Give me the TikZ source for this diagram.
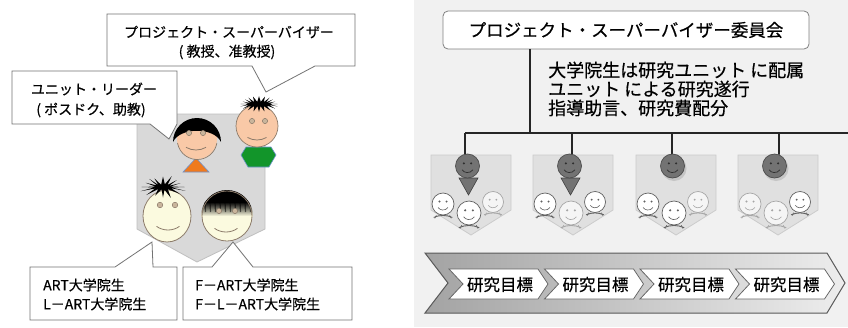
\documentclass[tikz,border=0pt]{standalone}
\usepackage{fontspec}
\newfontfamily\jpfont[FakeBold=0.5]{Noto Sans CJK JP}
\usetikzlibrary{calc}
\definecolor{panelgrey}{HTML}{F1F1F1}
\definecolor{peach}{HTML}{F9C9A7}
\definecolor{cream}{HTML}{FBFADF}
\definecolor{faceline}{HTML}{8C7B6A}
\definecolor{eyefill}{HTML}{C9B59C}
\definecolor{shirtorange}{HTML}{F07A1E}
\definecolor{shirtgreen}{HTML}{12952A}
\definecolor{shirtedge}{HTML}{6F93CF}
\definecolor{shieldgrey}{HTML}{D9D9D9}

\tikzset{
  callout/.style={fill=white, draw=black!55, line width=0.8pt},
  txt/.style={font=\jpfont\fontsize{14pt}{16pt}\selectfont, inner sep=0pt},
  bigtxt/.style={font=\jpfont\fontsize{18pt}{20pt}\selectfont, inner sep=0pt},
  goaltxt/.style={font=\jpfont\fontsize{16.5pt}{18pt}\selectfont, inner sep=0pt},
  titlebox/.style={font=\jpfont\fontsize{17.5pt}{19pt}\selectfont, fill=white, draw=black!50,
    line width=0.8pt, rounded corners=5pt, minimum width=366pt, minimum height=38pt, inner sep=0pt},
  wire/.style={draw=black!85, line width=1.4pt},
  goalbox/.style={fill=white, draw=black!60, line width=0.8pt},
  eye/.style={fill=eyefill, draw=faceline, line width=0.5pt},
}

% white smiley of a unit member: x, y, radius, fill, line
\newcommand\membersmiley[5]{%
  \begin{scope}[shift={(#1,#2)}, scale=#3]
    \draw[#5, line width=0.9pt] (-0.85,1.22) .. controls (-0.3,0.98) and (0.3,0.98) .. (0.85,1.22);
    \draw[#5, line width=0.6pt] (-0.6,1.02) -- (-0.75,1.3) (0.6,1.02) -- (0.75,1.3);
    \filldraw[fill=#4, draw=#5, line width=0.7pt] (0,0) circle[radius=1];
    \fill[#5] (-0.32,-0.22) circle[radius=0.1] (0.32,-0.22) circle[radius=0.1];
    \draw[#5, line width=0.6pt] (35:0.55) arc[start angle=35, end angle=145, radius=0.55];
  \end{scope}}
\newcommand\memberW[3]{\membersmiley{#1}{#2}{#3}{white}{black!62}}
\newcommand\memberP[3]{\membersmiley{#1}{#2}{#3}{black!4}{black!35}}

% dark smiley of a unit leader
\newcommand\leaderface[3]{%
  \begin{scope}[shift={(#1,#2)}, scale=#3]
    \filldraw[fill=black!55, draw=black!70, line width=0.7pt] (0,0) circle[radius=1];
    \fill[black!82] (-0.3,-0.22) circle[radius=0.1] (0.3,-0.22) circle[radius=0.1];
    \draw[black!82, line width=0.7pt] (35:0.55) arc[start angle=35, end angle=145, radius=0.55];
  \end{scope}}

% research unit: left edge, 1 = leader with tie, three member smileys
\newcommand\researchunit[5]{%
  \begin{scope}[shift={(#1,155)}]
    \filldraw[fill=black!12, draw=black!20, line width=0.8pt]
      (0,0) -- (80,0) -- (80,55) -- (40,80) -- (0,55) -- cycle;
    \ifnum#2=1
      \filldraw[fill=black!55, draw=black!75, line width=0.6pt] (28,23) -- (47,23) -- (37.5,40) -- cycle;
    \else
      \fill[black!35, opacity=0.45] (38,13.5) circle[radius=12.5];
    \fi
    \leaderface{36.5}{11}{12}
    #3{12}{49}{11}
    #5{62}{47}{10.5}
    #4{38}{58}{12}
  \end{scope}}

\begin{document}
\begin{tikzpicture}[x=1pt, y=-1pt]
\useasboundingbox (0,0) rectangle (848,327);
\fill[white] (0,0) rectangle (414,327);
\fill[panelgrey] (414,0) rectangle (848,327);

% ---------------- left: members of a unit ----------------
\filldraw[fill=shieldgrey, draw=black!25, line width=0.8pt]
  (137,114) -- (265,114) -- (265,229) -- (197,262) -- (137,229) -- cycle;

% unit leader (orange)
\filldraw[fill=shirtorange, draw=shirtedge, line width=0.6pt] (183,172) -- (209,172) -- (196,158) -- cycle;
\fill[peach] (197,139) circle[radius=20];
\fill[black] (173,142) arc[start angle=180, end angle=360, radius=24]
  .. controls (214,127) and (180,127) .. cycle;
\draw[faceline, line width=0.7pt] (177.5,143) arc[start angle=170, end angle=10, radius=20];
\path[eye] (189,133) circle[radius=2.6] (203,133) circle[radius=2.6];
\draw[faceline, line width=0.8pt] (196,130) ++(60:20) arc[start angle=60, end angle=120, radius=20];

% project supervisor (green)
\filldraw[fill=shirtgreen, draw=shirtedge, line width=0.6pt]
  (246,147) -- (271,147) -- (276,155) -- (269,167) -- (248,167) -- (241,155) -- cycle;
\filldraw[fill=peach, draw=faceline, line width=0.7pt] (257,126) circle[radius=21];
\fill[black, shift={(259,104)}] plot[domain=0:360, samples=41, variable=\t]
  ({(14.5+4*cos(20*\t))*(1+0.08*sin(3*\t))*cos(\t)}, {(5+2.8*cos(20*\t))*sin(\t)}) -- cycle;
\path[eye] (252,121) circle[radius=2.6] (265,121) circle[radius=2.6];
\draw[faceline, line width=0.8pt] (257,121) ++(60:19) arc[start angle=60, end angle=120, radius=19];

% ART student (spiky hair)
\filldraw[fill=cream, draw=faceline, line width=0.8pt] (167,216) ellipse[x radius=24, y radius=26];
\fill[black, shift={(163,187)}] plot[domain=0:360, samples=33, variable=\t]
  ({(15+6.5*cos(16*\t))*(1+0.14*sin(3*\t))*cos(\t)}, {(6.5+4*cos(16*\t))*(1+0.12*cos(5*\t))*sin(\t)}) -- cycle;
\path[eye] (160,205) circle[radius=2.8] (175,205) circle[radius=2.8];
\draw[faceline, line width=0.8pt] (168,210) ++(55:20) arc[start angle=55, end angle=125, radius=20];

% F-ART student (bowl cut)
\fill[cream] (227,216) circle[radius=25];
\begin{scope}
  \clip (227,216) circle[radius=26];
  \shade[top color=black, bottom color=cream] (199,202) rectangle (255,216);
  \fill[black] (199,186) rectangle (255,203);
  \foreach \sx in {205,210,...,250} {
    \draw[black, opacity=0.55, line width=1.2pt] (\sx,202) -- (\sx+0.5,212);
  }
\end{scope}
\draw[faceline, line width=0.8pt] (227,216) circle[radius=25];
\path[eye] (219,211) circle[radius=2.6] (235,211) circle[radius=2.6];
\draw[faceline, line width=0.8pt] (226,212) ++(55:20) arc[start angle=55, end angle=125, radius=20];

% speech callouts
\path[callout] (107,14) -- (355,14) -- (355,66) -- (315,66) -- (266,92) -- (252,66) -- (107,66) -- cycle;
\node[txt] (supname) at (229,32) {プロジェクト・スーパーバイザー};
\node[txt] (suprank) at (227,52) {( 教授、准教授)};

\path[callout] (12,71) -- (177,71) -- (177,124) -- (169,139) -- (150,124) -- (12,124) -- cycle;
\node[txt] (leadname) at (94,89) {ユニット・リーダー};
\node[txt] (leadrank) at (91,110) {( ポスドク、助教)};

\path[callout] (30,267) -- (115,267) -- (152,242) -- (153,267) -- (177,267) -- (177,320) -- (30,320) -- cycle;
\node[txt, anchor=west] (artA) at (43,285) {ART大学院生};
\node[txt, anchor=west] (artB) at (43,304) {L－ART大学院生};

\path[callout] (183,267) -- (212,267) -- (233,242) -- (253,267) -- (352,267) -- (352,320) -- (183,320) -- cycle;
\node[txt, anchor=west] (fartA) at (195,285) {F－ART大学院生};
\node[txt, anchor=west] (fartB) at (195,304) {F－L－ART大学院生};

% ---------------- right: committee and units ----------------
\node[titlebox] (committee) at (626,30) {プロジェクト・スーパーバイザー委員会};
\coordinate (bus) at (530,133);
\coordinate (busW) at (465,133);
\coordinate (busE) at (848,133);
\coordinate (drop1) at (465,156);
\coordinate (drop2) at (572,156);
\coordinate (drop3) at (672,156);
\coordinate (drop4) at (779,156);
\draw[wire] (committee.south -| bus) -- (bus);
\draw[wire] (busW) -- (busE);
\foreach \k in {1,2,3,4} { \draw[wire] (drop\k |- bus) -- (drop\k); }

\node[bigtxt, anchor=west] (dutyA) at (548,70) {大学院生は研究ユニット に配属};
\node[bigtxt, anchor=west] (dutyB) at (548,89) {ユニット による研究遂行};
\node[bigtxt, anchor=west] (dutyC) at (548,108) {指導助言、研究費配分};

\researchunit{431}{1}{\memberW}{\memberW}{\memberP}
\researchunit{533}{1}{\memberW}{\memberP}{\memberW}
\researchunit{636}{0}{\memberW}{\memberW}{\memberP}
\researchunit{738}{0}{\memberP}{\memberP}{\memberW}

% research goals band
\shadedraw[left color=black!36, right color=black!7, draw=black!65, line width=1pt]
  (425,253) -- (827,253) -- (845,283) -- (827,313) -- (425,313) -- (448,283) -- cycle;
\foreach \i in {0,1,2,3} {
  \pgfmathsetmacro\xo{449+95.5*\i}
  \filldraw[goalbox] (\xo,269) -- ++(89,0) -- ++(10,15) -- ++(-10,15) -- ++(-89,0) -- ++(14,-15) -- cycle;
  \node[goaltxt] (goal\i) at (\xo+51,284.5) {研究目標};
}
\end{tikzpicture}
\end{document}
